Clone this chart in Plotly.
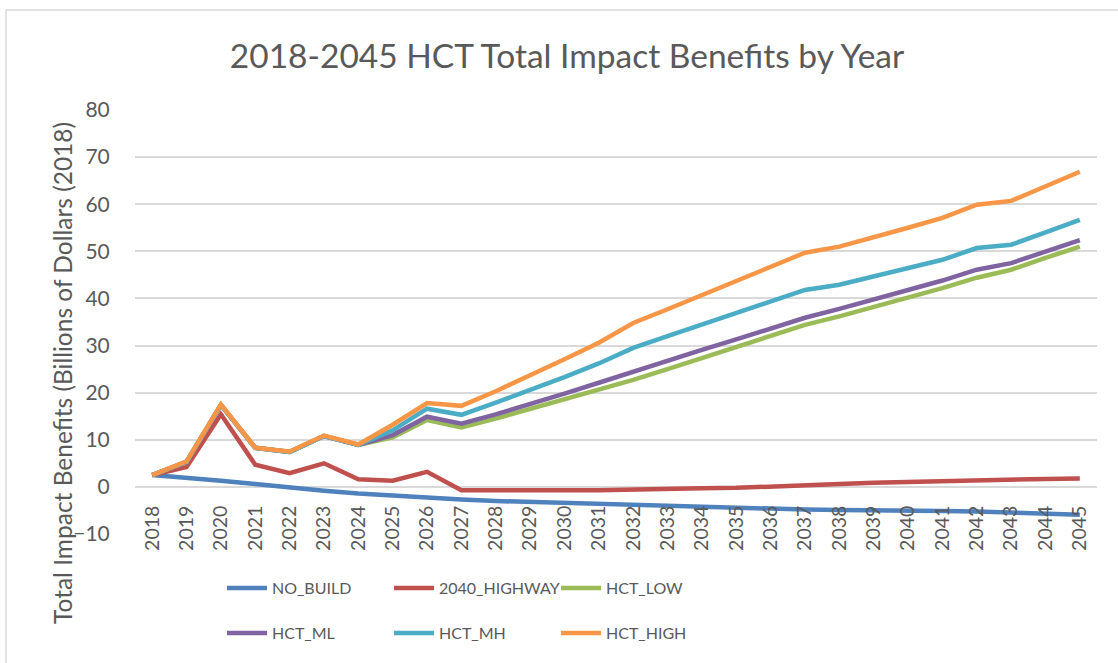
import plotly.graph_objects as go

years = [str(y) for y in range(2018, 2046)]

no_build = [2.5, 2.0, 1.3, 0.6, -0.2, -0.8, -1.4, -1.9, -2.3, -2.7, -3.0, -3.2, -3.5, -3.8, -4.0, -4.2, -4.4, -4.6, -4.7, -4.8, -4.9, -4.9, -5.0, -5.1, -5.2, -5.4, -5.6, -5.9]
highway_2040 = [2.5, 4.2, 15.4, 4.7, 2.9, 5.0, 1.6, 1.3, 3.2, -0.7, -0.7, -0.8, -0.7, -0.7, -0.5, -0.4, -0.3, -0.2, 0.0, 0.3, 0.6, 0.9, 1.1, 1.3, 1.4, 1.6, 1.7, 1.8]
hct_low = [2.5, 5.3, 17.4, 8.3, 7.4, 10.8, 8.9, 10.5, 14.2, 12.6, 14.5, 16.5, 18.6, 20.6, 22.7, 25.0, 27.4, 29.7, 32.1, 34.4, 36.2, 38.2, 40.1, 42.2, 44.4, 46.1, 48.6, 51.0]
hct_ml = [2.5, 5.3, 17.4, 8.3, 7.4, 10.8, 8.9, 11.0, 14.9, 13.4, 15.4, 17.5, 19.8, 22.1, 24.5, 26.8, 29.1, 31.3, 33.6, 35.9, 37.8, 39.7, 41.8, 43.8, 46.1, 47.5, 50.0, 52.4]
hct_mh = [2.5, 5.3, 17.4, 8.3, 7.4, 10.8, 8.9, 12.0, 16.6, 15.3, 17.9, 20.5, 23.3, 26.2, 29.5, 32.0, 34.4, 36.9, 39.3, 41.8, 42.9, 44.6, 46.5, 48.2, 50.7, 51.4, 54.0, 56.7]
hct_high = [2.5, 5.4, 17.5, 8.3, 7.5, 10.9, 9.0, 13.2, 17.8, 17.2, 20.3, 23.6, 27.1, 30.6, 34.8, 37.7, 40.7, 43.7, 46.7, 49.7, 51.0, 52.9, 55.0, 57.1, 59.9, 60.7, 63.8, 66.9]

series = [
    ("NO_BUILD", no_build, "#4F81BD", "legend"),
    ("2040_HIGHWAY", highway_2040, "#C0504D", "legend"),
    ("HCT_LOW", hct_low, "#9BBB59", "legend"),
    ("HCT_ML", hct_ml, "#8064A2", "legend2"),
    ("HCT_MH", hct_mh, "#4BACC6", "legend2"),
    ("HCT_HIGH", hct_high, "#F79646", "legend2"),
]

FONT = "Lato"
GREY = "#595959"

fig = go.Figure()
for name, vals, color, lg in series:
    fig.add_trace(go.Scatter(
        x=years, y=vals, name=name, mode="lines",
        line=dict(color=color, width=4.5),
        legend=lg,
    ))

W, H = 1118, 663
ml, mr, mt, mb = 135, 21, 110, 129
plot_h = H - mt - mb
plot_w = W - ml - mr

def py(pix):
    return (H - mb - pix) / plot_h

def px(pix):
    return (pix - ml) / plot_w

legend_common = dict(
    orientation="h", xanchor="left", yanchor="middle",
    font=dict(family=FONT, size=16, color=GREY),
    entrywidth=112, entrywidthmode="pixels",
    bgcolor="rgba(0,0,0,0)", itemwidth=40,
)

fig.update_layout(
    width=W, height=H,
    margin=dict(l=ml, r=mr, t=mt, b=mb, autoexpand=False),
    paper_bgcolor="white", plot_bgcolor="white",
    font=dict(family=FONT, color=GREY),
    title=dict(
        text="2018-2045 HCT Total Impact Benefits by Year",
        x=567 / W, xref="container", xanchor="center",
        y=1 - 56 / H, yref="container", yanchor="middle",
        font=dict(family=FONT, size=33.5, color=GREY),
    ),
    xaxis=dict(
        type="category", categoryorder="array", categoryarray=years,
        range=[-0.5, 27.5],
        anchor="free", position=10 / 90,
        tickangle=-90,
        ticks="outside", ticklen=10, tickcolor="rgba(0,0,0,0)",
        tickfont=dict(family=FONT, size=19.5, color=GREY),
        showgrid=False, showline=False, zeroline=False,
    ),
    yaxis=dict(
        range=[-10, 80], dtick=10,
        ticks="outside", ticklen=20, tickcolor="rgba(0,0,0,0)",
        tickfont=dict(family=FONT, size=21, color=GREY),
        showgrid=True, gridcolor="#D9D9D9", gridwidth=1.5,
        zeroline=True, zerolinecolor="#D9D9D9", zerolinewidth=1.5,
        showline=False,
    ),
    legend=dict(x=px(222), y=py(588), **legend_common),
    legend2=dict(x=px(222), y=py(633), **legend_common),
    annotations=[dict(
        text="Total Impact Benefits (Billions of Dollars (2018)",
        xref="paper", yref="paper", x=px(62), y=py(373),
        xanchor="center", yanchor="middle", textangle=-90,
        showarrow=False, font=dict(family=FONT, size=24.5, color=GREY),
    )],
    shapes=[dict(
        type="rect", xref="paper", yref="paper",
        x0=px(6), x1=px(1200), y0=py(700), y1=py(10),
        line=dict(color="#D9D9D9", width=1.5), fillcolor="rgba(0,0,0,0)",
        layer="below",
    )],
)

fig.write_html("out.html", config={"displayModeBar": False},
               post_script="document.body.style.margin='0';")
